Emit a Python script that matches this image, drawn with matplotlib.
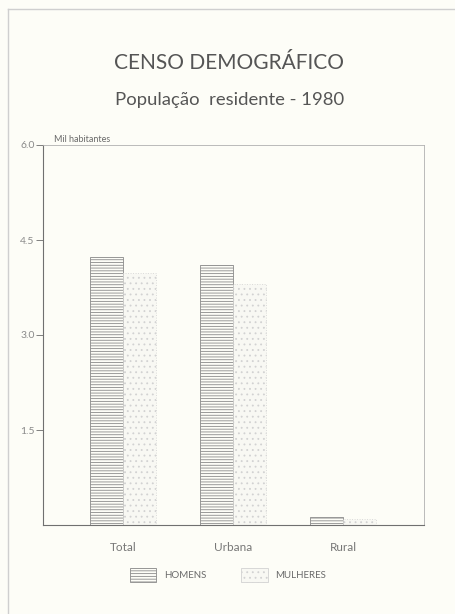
import matplotlib
matplotlib.use("Agg")
import matplotlib.pyplot as plt
import numpy as np
from matplotlib.lines import Line2D
from matplotlib.patches import Patch

categories = ["Total", "Urbana", "Rural"]
homens = [4.23, 4.11, 0.13]
mulheres = [3.98, 3.81, 0.10]
yticks = [1.5, 3.0, 4.5, 6.0]
ytick_labels = ["1.5", "3.0", "4.5", "6.0"]

BG = "#fdfdf7"
INK = "#6a6a6a"
plt.rcParams["font.family"] = ["Lato", "DejaVu Sans"]
plt.rcParams["hatch.linewidth"] = 0.6

fig = plt.figure(figsize=(4.56, 6.14), dpi=100, facecolor=BG)
ax = fig.add_axes([43 / 456, 1 - 525 / 614, (424 - 43) / 456, (525 - 145) / 614])
ax.set_facecolor(BG)

x = np.arange(len(categories))
w = 0.3
ax.bar(x - w / 2, homens, width=w, facecolor=BG, edgecolor="#8a8a8a",
       linewidth=0.6, hatch="------")
ax.bar(x + w / 2, mulheres, width=w, facecolor="#f8f8f3", edgecolor="#d2d2d2",
       linewidth=0.6, linestyle=(0, (1, 2)), hatch="...")

ax.set_xlim(-0.727, 2.736)
ax.set_ylim(0, 6.0)
ax.set_yticks(yticks)
ax.set_yticklabels(ytick_labels)
ax.set_xticks(x)
ax.set_xticklabels(categories)
ax.tick_params(axis="y", direction="out", length=5, width=0.6, color=INK,
               labelsize=7.5, labelcolor="#8a8a8a", pad=1)
ax.tick_params(axis="x", length=0, labelsize=8.5, labelcolor="#777777", pad=12)
for side in ["left", "bottom"]:
    ax.spines[side].set_color("#707070")
    ax.spines[side].set_linewidth(0.8)
for side in ["top", "right"]:
    ax.spines[side].set_color("#b0b0b0")
    ax.spines[side].set_linewidth(0.6)

ax.text(0.03, 1.003, "Mil habitantes", transform=ax.transAxes, fontsize=6.5,
        color=INK, ha="left", va="bottom")

fig.text(0.503, 1 - 63 / 614, "CENSO DEMOGRÁFICO", ha="center", va="center",
         fontsize=15, color="#555555")
fig.text(0.503, 1 - 100 / 614, "População  residente - 1980", ha="center",
         va="center", fontsize=13.3, color="#555555")

handles = [
    Patch(facecolor=BG, edgecolor="#8a8a8a", linewidth=0.6, hatch="------"),
    Patch(facecolor="#f8f8f3", edgecolor="#d2d2d2", linewidth=0.6, hatch="..."),
]
fig.legend(handles, ["HOMENS", "MULHERES"], loc="center",
           bbox_to_anchor=(0.5, 1 - 575 / 614), ncol=2, frameon=False,
           fontsize=7, labelcolor=INK, handlelength=2.7, handleheight=1.9,
           columnspacing=3.6, handletextpad=0.8)

# page frame
fig.add_artist(Line2D([8 / 456, 8 / 456], [0, 1 - 9 / 614], transform=fig.transFigure,
                      color="#cfcfcf", linewidth=1.0))
fig.add_artist(Line2D([8 / 456, 1], [1 - 9 / 614, 1 - 9 / 614], transform=fig.transFigure,
                      color="#cfcfcf", linewidth=1.0))

fig.savefig("out.png", dpi=100, facecolor=BG)
